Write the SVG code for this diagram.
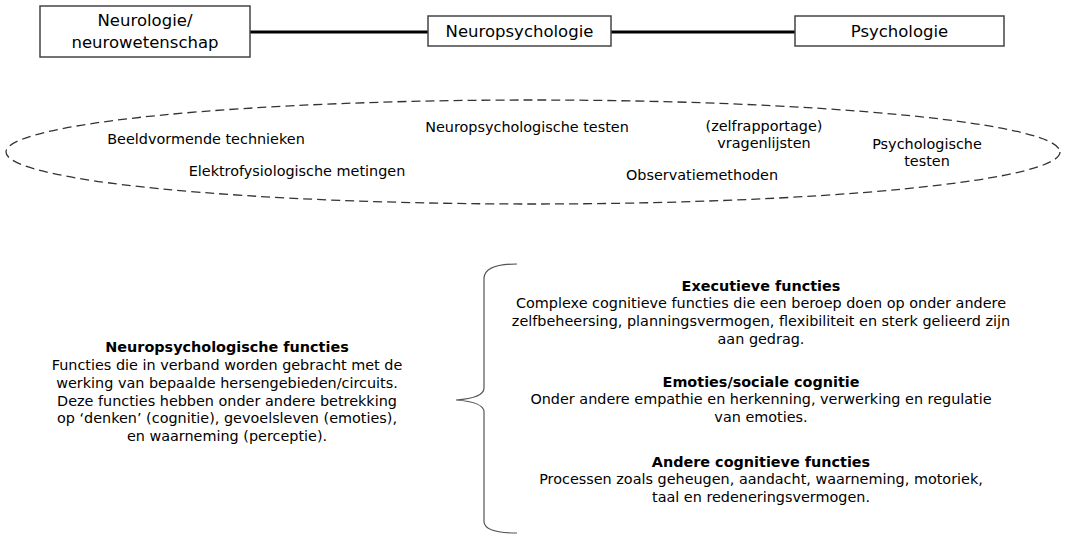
<svg xmlns="http://www.w3.org/2000/svg" width="1066" height="535" viewBox="0 0 1066 535">
<style>
text{font-family:"DejaVu Sans",Verdana,sans-serif;fill:#000;text-anchor:middle}
.h{font-size:16.5px}
.t{font-size:14.4px}
.b{font-weight:bold}
.box{fill:#fff;stroke:#444;stroke-width:1.5}
.ln{stroke:#000;stroke-width:3;fill:none}
</style>
<rect width="1066" height="535" fill="#fff"/>
<g id="connectors">
<line class="ln" x1="250" y1="32" x2="428" y2="32"/>
<line class="ln" x1="611" y1="32" x2="795" y2="32"/>
</g>
<g id="n-neurologie">
<rect class="box" x="40" y="6" width="210" height="51"/>
<text class="h" x="145" y="26">Neurologie/</text>
<text class="h" x="145" y="48">neurowetenschap</text>
</g>
<g id="n-neuropsychologie">
<rect class="box" x="428" y="16" width="183" height="30"/>
<text class="h" x="519.5" y="37">Neuropsychologie</text>
</g>
<g id="n-psychologie">
<rect class="box" x="795" y="16" width="209" height="30"/>
<text class="h" x="899.5" y="37">Psychologie</text>
</g>
<g id="methods">
<ellipse cx="533" cy="152" rx="527" ry="52" fill="none" stroke="#333" stroke-width="1.3" stroke-dasharray="9,5"/>
<text class="t" x="206" y="144">Beeldvormende technieken</text>
<text class="t" x="297" y="176">Elektrofysiologische metingen</text>
<text class="t" x="527" y="132">Neuropsychologische testen</text>
<text class="t" x="764" y="131">(zelfrapportage)</text>
<text class="t" x="764" y="148">vragenlijsten</text>
<text class="t" x="927" y="149">Psychologische</text>
<text class="t" x="927" y="166">testen</text>
<text class="t" x="702" y="180">Observatiemethoden</text>
</g>
<g id="n-functies">
<text class="t b" x="227" y="352">Neuropsychologische functies</text>
<text class="t" x="227" y="370">Functies die in verband worden gebracht met de</text>
<text class="t" x="227" y="388">werking van bepaalde hersengebieden/circuits.</text>
<text class="t" x="227" y="406">Deze functies hebben onder andere betrekking</text>
<text class="t" x="227" y="423">op ‘denken’ (cognitie), gevoelsleven (emoties),</text>
<text class="t" x="227" y="441">en waarneming (perceptie).</text>
</g>
<g id="brace">
<path d="M517,264 Q485,264 484,278 L484,388 Q484,398 456,400 Q484,402 484,412 L484,522 Q485,533 517,533" fill="none" stroke="#555" stroke-width="1.2"/>
</g>
<g id="n-executief">
<text class="t b" x="761" y="291">Executieve functies</text>
<text class="t" x="761" y="308">Complexe cognitieve functies die een beroep doen op onder andere</text>
<text class="t" x="761" y="326">zelfbeheersing, planningsvermogen, flexibiliteit en sterk gelieerd zijn</text>
<text class="t" x="761" y="344">aan gedrag.</text>
</g>
<g id="n-emoties">
<text class="t b" x="761" y="387">Emoties/sociale cognitie</text>
<text class="t" x="761" y="404">Onder andere empathie en herkenning, verwerking en regulatie</text>
<text class="t" x="761" y="422">van emoties.</text>
</g>
<g id="n-andere">
<text class="t b" x="761" y="467">Andere cognitieve functies</text>
<text class="t" x="761" y="484">Processen zoals geheugen, aandacht, waarneming, motoriek,</text>
<text class="t" x="761" y="502">taal en redeneringsvermogen.</text>
</g>
</svg>
